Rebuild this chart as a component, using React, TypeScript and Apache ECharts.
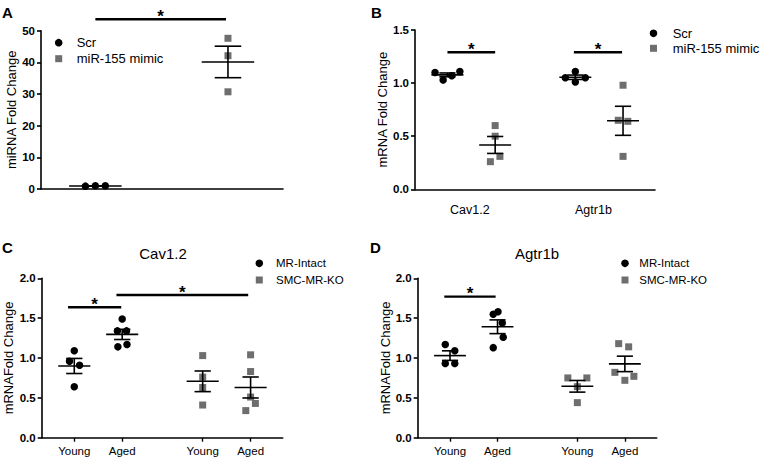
import React, { useEffect, useRef } from "react";
import * as echarts from "echarts";

// ---------- Panel A : miRNA fold change ----------
const aLegend = ["Scr", "miR-155 mimic"];
const aScr = [0.9, 1.0, 1.0];
const aMimic = [47.6, 42.1, 30.7];
const aScrJitter = [-0.075, 0, 0.075];
const aMimicJitter = [0, 0, 0];
const aSig = [[1.0, 1.985, 53.6]];

// ---------- Panel B : mRNA fold change ----------
const bGenes = ["Cav1.2", "Agtr1b"];
const bScrCav = [1.10, 1.03, 1.07, 1.11];
const bMimicCav = [0.60, 0.50, 0.26, 0.31];
const bScrAgt = [1.05, 1.11, 1.01, 1.05];
const bMimicAgt = [0.98, 0.65, 0.64, 0.31];
const bScrCavJitter = [-0.26, -0.09, 0.09, 0.26];
const bMimicCavJitter = [0, 0, -0.1, 0.1];
const bScrAgtJitter = [-0.21, 0, 0, 0.21];
const bMimicAgtJitter = [0, -0.1, 0.1, 0];
const bSig = [[1.0, 2.0, 1.29], [3.65, 4.66, 1.29]];

// ---------- Panel C : Cav1.2 ----------
const ageLabels = ["Young", "Aged", "Young", "Aged"];
const cLegend = ["MR-Intact", "SMC-MR-KO"];
const cMRYoung = [1.09, 0.96, 0.91, 0.64];
const cMRAged = [1.49, 1.34, 1.34, 1.14, 1.17];
const cKOYoung = [1.03, 0.76, 0.63, 0.41];
const cKOAged = [1.04, 0.83, 0.51, 0.43, 0.34];
const cMRYoungJitter = [0, -0.1, 0.11, 0];
const cMRAgedJitter = [0, -0.1, 0.09, -0.09, 0.1];
const cKOYoungJitter = [0, 0, 0, 0];
const cKOAgedJitter = [0, 0, 0, 0.1, -0.1];
const cSig = [[0.87, 1.98, 1.636], [1.88, 4.63, 1.79]];

// ---------- Panel D : Agtr1b ----------
const dMRYoung = [1.17, 1.09, 0.93, 0.93];
const dMRAged = [1.55, 1.58, 1.44, 1.26, 1.13];
const dKOYoung = [0.75, 0.75, 0.64, 0.44];
const dKOAged = [1.18, 1.14, 0.82, 0.77, 0.72];
const dMRYoungJitter = [-0.1, 0.1, -0.1, 0.1];
const dMRAgedJitter = [-0.09, 0.01, 0.1, 0.12, -0.09];
const dKOYoungJitter = [-0.2, 0.2, 0, 0];
const dKOAgedJitter = [-0.13, 0.08, -0.21, 0.19, 0];
const dSig = [[0.88, 1.96, 1.77]];

// ---------- layout (group slots on hidden value x-axes) ----------
const slotsA = [1, 2];
const slots4 = [1, 2, 3.68, 4.68];
const bLabelPos = [1.47, 4.06];

const FONT = "'Liberation Sans', Arial, Helvetica, sans-serif";
const GREY = "#6e6e6e";

function mean(v: number[]) {
  return v.reduce((s, x) => s + x, 0) / v.length;
}
function sem(v: number[]) {
  const m = mean(v);
  const sd = Math.sqrt(v.reduce((s, x) => s + (x - m) * (x - m), 0) / (v.length - 1));
  return sd / Math.sqrt(v.length);
}

function pts(vals: number[], slot: number, jit: number[]) {
  return vals.map((v, i) => [slot + jit[i], v]);
}

function scatter(idx: number, data: number[][], square: boolean) {
  return {
    type: "scatter",
    xAxisIndex: idx,
    yAxisIndex: idx,
    data,
    symbol: square ? "rect" : "circle",
    symbolSize: square ? 7 : 7.5,
    itemStyle: { color: square ? GREY : "#000", opacity: 1 },
    z: 2,
    silent: true,
  };
}

function errBars(idx: number, groups: { slot: number; vals: number[] }[], halfMean: number, halfCap: number) {
  return {
    type: "custom",
    xAxisIndex: idx,
    yAxisIndex: idx,
    data: groups.map((g) => [g.slot, mean(g.vals), sem(g.vals)]),
    encode: { x: 0, y: 1 },
    z: 3,
    silent: true,
    renderItem: (_p: any, api: any) => {
      const x = api.value(0);
      const m = api.value(1);
      const s = api.value(2);
      const style = { stroke: "#000", lineWidth: 1.6 };
      const L = api.coord([x - halfMean, m]);
      const R = api.coord([x + halfMean, m]);
      const T = api.coord([x, m + s]);
      const B = api.coord([x, m - s]);
      const TL = api.coord([x - halfCap, m + s]);
      const TR = api.coord([x + halfCap, m + s]);
      const BL = api.coord([x - halfCap, m - s]);
      const BR = api.coord([x + halfCap, m - s]);
      return {
        type: "group",
        children: [
          { type: "line", shape: { x1: L[0], y1: L[1], x2: R[0], y2: R[1] }, style },
          { type: "line", shape: { x1: T[0], y1: T[1], x2: B[0], y2: B[1] }, style },
          { type: "line", shape: { x1: TL[0], y1: TL[1], x2: TR[0], y2: TR[1] }, style },
          { type: "line", shape: { x1: BL[0], y1: BL[1], x2: BR[0], y2: BR[1] }, style },
        ],
      };
    },
  };
}

function sigSeries(idx: number, sig: number[][]) {
  return {
    type: "custom",
    xAxisIndex: idx,
    yAxisIndex: idx,
    data: sig,
    encode: { x: [0, 1], y: 2 },
    clip: false,
    z: 4,
    silent: true,
    renderItem: (_p: any, api: any) => {
      const a = api.coord([api.value(0), api.value(2)]);
      const b = api.coord([api.value(1), api.value(2)]);
      return {
        type: "group",
        children: [
          { type: "line", shape: { x1: a[0], y1: a[1], x2: b[0], y2: b[1] }, style: { stroke: "#000", lineWidth: 2.4 } },
          {
            type: "text",
            style: {
              text: "*",
              x: (a[0] + b[0]) / 2,
              y: a[1] - 3,
              align: "center",
              verticalAlign: "middle",
              font: `bold 17px ${FONT}`,
              fill: "#000",
            },
          },
        ],
      };
    },
  };
}

function yAxis(idx: number, max: number, interval: number, name: string, gap: number, decimals: number) {
  return {
    type: "value",
    gridIndex: idx,
    min: 0,
    max,
    interval,
    name,
    nameLocation: "middle",
    nameGap: gap,
    nameRotate: 90,
    nameTextStyle: { fontFamily: FONT, fontSize: 13, color: "#000" },
    axisLine: { show: true, lineStyle: { color: "#000", width: 1.6 } },
    axisTick: { show: true, length: 4, lineStyle: { color: "#000", width: 1.6 } },
    axisLabel: {
      margin: 6,
      fontFamily: FONT,
      fontSize: 11.5,
      fontWeight: "bold",
      color: "#000",
      formatter: (v: number) => v.toFixed(decimals),
    },
    splitLine: { show: false },
  };
}

function xAxis(idx: number, min: number, max: number, labelPos: number[] | null, labels: string[], ticks: boolean, margin: number, fontSize: number) {
  return {
    type: "value",
    gridIndex: idx,
    min,
    max,
    axisLine: { show: true, onZero: false, lineStyle: { color: "#000", width: 1.6 } },
    axisTick: ticks && labelPos
      ? { show: true, length: 4, customValues: labelPos, lineStyle: { color: "#000", width: 1.4 } }
      : { show: false },
    axisLabel: labelPos
      ? {
          show: true,
          customValues: labelPos,
          margin,
          fontFamily: FONT,
          fontSize,
          color: "#000",
          formatter: (v: number) => {
            let best = 0;
            labelPos.forEach((p, i) => {
              if (Math.abs(p - v) < Math.abs(labelPos[best] - v)) best = i;
            });
            return labels[best];
          },
        }
      : { show: false },
    splitLine: { show: false },
  };
}

function legendItems(x: number, y1: number, y2: number, textX: number, labels: string[], size: number) {
  return [
    { type: "circle", shape: { cx: x, cy: y1, r: 3.8 }, style: { fill: "#000" } },
    { type: "rect", shape: { x: x - 3.5, y: y2 - 3.5, width: 7, height: 7 }, style: { fill: GREY } },
    { type: "text", x: textX, y: y1, style: { text: labels[0], font: `${size}px ${FONT}`, fill: "#000", verticalAlign: "middle" } },
    { type: "text", x: textX, y: y2, style: { text: labels[1], font: `${size}px ${FONT}`, fill: "#000", verticalAlign: "middle" } },
  ];
}

function panelLetter(t: string, x: number, y: number) {
  return { type: "text", x, y, style: { text: t, font: `bold 15px ${FONT}`, fill: "#000" } };
}

export default function App() {
  const ref = useRef<HTMLDivElement>(null);
  useEffect(() => {
    if (!ref.current) return;
    const chart = echarts.init(ref.current, null, { renderer: "svg" });
    const option: any = {
      animation: false,
      backgroundColor: "#fff",
      grid: [
        { left: 41, top: 30.7, width: 242, height: 158.3, outerBoundsMode: "none" },
        { left: 415, top: 30, width: 240, height: 159.3, outerBoundsMode: "none" },
        { left: 41.7, top: 278.3, width: 241, height: 159.4, outerBoundsMode: "none" },
        { left: 417.7, top: 278.3, width: 239, height: 159.4, outerBoundsMode: "none" },
      ],
      xAxis: [
        xAxis(0, 0.59, 2.415, null, [], false, 0, 12),
        xAxis(1, 0.32, 5.35, bLabelPos, bGenes, false, 14, 12.5),
        xAxis(2, 0.32, 5.35, slots4, ageLabels, true, 7, 11.5),
        xAxis(3, 0.32, 5.35, slots4, ageLabels, true, 7, 11.5),
      ],
      yAxis: [
        yAxis(0, 50, 10, "miRNA Fold Change", 22, 0),
        yAxis(1, 1.5, 0.5, "mRNA Fold Change", 23, 1),
        yAxis(2, 2, 0.5, "mRNAFold Change", 27, 1),
        yAxis(3, 2, 0.5, "mRNAFold Change", 24, 1),
      ],
      series: [
        // A
        scatter(0, pts(aScr, slotsA[0], aScrJitter), false),
        scatter(0, pts(aMimic, slotsA[1], aMimicJitter), true),
        errBars(0, [{ slot: slotsA[0], vals: aScr }, { slot: slotsA[1], vals: aMimic }], 0.198, 0.1),
        sigSeries(0, aSig),
        // B
        scatter(1, pts(bScrCav, slots4[0], bScrCavJitter), false),
        scatter(1, pts(bScrAgt, slots4[2], bScrAgtJitter), false),
        scatter(1, pts(bMimicCav, slots4[1], bMimicCavJitter), true),
        scatter(1, pts(bMimicAgt, slots4[3], bMimicAgtJitter), true),
        errBars(1, [
          { slot: slots4[0], vals: bScrCav },
          { slot: slots4[1], vals: bMimicCav },
          { slot: slots4[2], vals: bScrAgt },
          { slot: slots4[3], vals: bMimicAgt },
        ], 0.335, 0.17),
        sigSeries(1, bSig),
        // C
        scatter(2, pts(cMRYoung, slots4[0], cMRYoungJitter), false),
        scatter(2, pts(cMRAged, slots4[1], cMRAgedJitter), false),
        scatter(2, pts(cKOYoung, slots4[2], cKOYoungJitter), true),
        scatter(2, pts(cKOAged, slots4[3], cKOAgedJitter), true),
        errBars(2, [
          { slot: slots4[0], vals: cMRYoung },
          { slot: slots4[1], vals: cMRAged },
          { slot: slots4[2], vals: cKOYoung },
          { slot: slots4[3], vals: cKOAged },
        ], 0.335, 0.17),
        sigSeries(2, cSig),
        // D
        scatter(3, pts(dMRYoung, slots4[0], dMRYoungJitter), false),
        scatter(3, pts(dMRAged, slots4[1], dMRAgedJitter), false),
        scatter(3, pts(dKOYoung, slots4[2], dKOYoungJitter), true),
        scatter(3, pts(dKOAged, slots4[3], dKOAgedJitter), true),
        errBars(3, [
          { slot: slots4[0], vals: dMRYoung },
          { slot: slots4[1], vals: dMRAged },
          { slot: slots4[2], vals: dKOYoung },
          { slot: slots4[3], vals: dKOAged },
        ], 0.335, 0.17),
        sigSeries(3, dSig),
      ],
      graphic: [
        panelLetter("A", 2, 5),
        panelLetter("B", 371, 5),
        panelLetter("C", 2, 240),
        panelLetter("D", 370, 240),
        { type: "text", x: 163, y: 253, style: { text: "Cav1.2", font: `15px ${FONT}`, fill: "#000", align: "center", verticalAlign: "middle" } },
        { type: "text", x: 537, y: 253, style: { text: "Agtr1b", font: `15px ${FONT}`, fill: "#000", align: "center", verticalAlign: "middle" } },
        ...legendItems(58.7, 42.7, 58.7, 76.7, aLegend, 13),
        ...legendItems(653.5, 33.3, 48.3, 672.7, aLegend, 13),
        ...legendItems(259.3, 263.3, 280, 276, cLegend, 11.5),
        ...legendItems(625, 263.3, 280, 639.3, cLegend, 11.5),
      ],
    };
    chart.setOption(option);
    return () => chart.dispose();
  }, []);
  return <div ref={ref} style={{ position: "fixed", left: 0, top: 0, width: 761, height: 460 }} />;
}
